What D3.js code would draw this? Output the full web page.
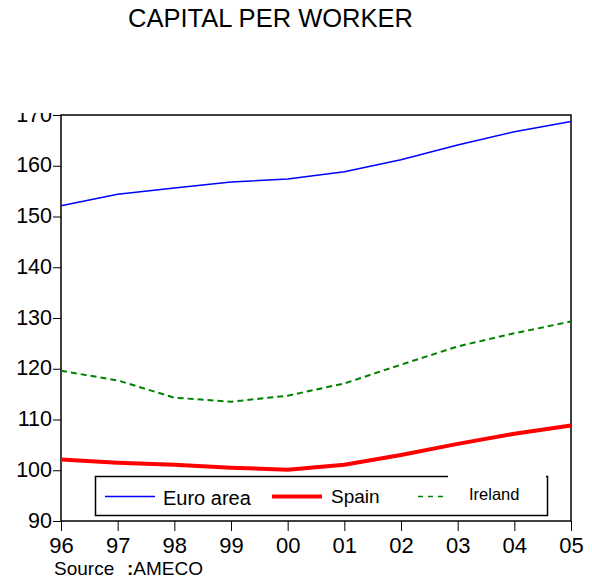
<!DOCTYPE html>
<html><head><meta charset="utf-8">
<script src="https://cdn.jsdelivr.net/npm/d3@7"></script>
<style>body{margin:0;background:#fff}svg{display:block;font-family:Arial,"Liberation Sans",sans-serif}</style>
</head><body><svg id="c" width="592" height="581"></svg>
<script>
const years = ["96","97","98","99","00","01","02","03","04","05"];
const euroArea = [152.1,154.4,155.6,156.8,157.4,158.8,161.2,164.1,166.7,168.7];
const spain = [102.1,101.5,101.1,100.5,100.1,101.1,103.0,105.2,107.2,108.8];
const ireland = [119.6,117.7,114.3,113.5,114.7,117.1,120.8,124.4,127.0,129.3];
const yTicks = [90,100,110,120,130,140,150,160,170];
const title = "CAPITAL PER WORKER";

const svg = d3.select("#c");
const L=61, R=571, T=115, B=521;
const x = d3.scalePoint().domain(years).range([L,R]);
const y = d3.scaleLinear().domain([90,170]).range([B,T]);

svg.append("text").attr("x",270.5).attr("y",27).attr("text-anchor","middle")
  .attr("font-size",25.5).text(title);

svg.append("defs").append("clipPath").attr("id","yc").append("rect")
  .attr("x",-70).attr("y",113).attr("width",80).attr("height",440);

const yAx = svg.append("g").attr("transform",`translate(${L},0)`).attr("clip-path","url(#yc)")
  .call(d3.axisLeft(y).tickValues(yTicks).tickSize(8).tickPadding(1).tickFormat(d3.format("d")));
yAx.select(".domain").remove();
yAx.selectAll("text").attr("font-size",21.5).attr("fill","#000").attr("font-family","Arial,'Liberation Sans',sans-serif").attr("dy","6px");
yAx.selectAll("line").attr("stroke","#000");

const xAx = svg.append("g").attr("transform",`translate(0,${B})`)
  .call(d3.axisBottom(x).tickSize(10).tickPadding(6));
xAx.select(".domain").remove();
xAx.selectAll("text").attr("font-size",22).attr("fill","#000").attr("font-family","Arial,'Liberation Sans',sans-serif").attr("dy","16px");
xAx.selectAll("line").attr("stroke","#000");

svg.append("rect").attr("x",L).attr("y",T).attr("width",R-L).attr("height",B-T)
  .attr("fill","none").attr("stroke","#000").attr("stroke-width",1.5);

const line = d3.line().x((d,i)=>x(years[i])).y(d=>y(d));
svg.append("path").datum(euroArea).attr("d",line).attr("fill","none").attr("stroke","#0000ff").attr("stroke-width",1.5);
svg.append("path").datum(ireland).attr("d",line).attr("fill","none").attr("stroke","#008000").attr("stroke-width",2).attr("stroke-dasharray","6,4");
svg.append("path").datum(spain).attr("d",line).attr("fill","none").attr("stroke","#ff0000").attr("stroke-width",4);

// legend
const lg = svg.append("g");
lg.append("rect").attr("x",95.5).attr("y",476.5).attr("width",452).attr("height",39)
  .attr("fill","#fff").attr("stroke","#000").attr("stroke-width",1.5);
lg.append("rect").attr("x",448).attr("y",474).attr("width",98).attr("height",5).attr("fill","#fff");
lg.append("line").attr("x1",105).attr("x2",155).attr("y1",496.5).attr("y2",496.5).attr("stroke","#0000ff").attr("stroke-width",1.5);
lg.append("text").attr("x",163).attr("y",505).attr("font-size",20).text("Euro area");
lg.append("line").attr("x1",272).attr("x2",322).attr("y1",496.5).attr("y2",496.5).attr("stroke","#ff0000").attr("stroke-width",4);
lg.append("text").attr("x",331).attr("y",503).attr("font-size",19).text("Spain");
lg.append("line").attr("x1",418).attr("x2",446).attr("y1",496.5).attr("y2",496.5).attr("stroke","#008000").attr("stroke-width",1.5).attr("stroke-dasharray","5,5");
lg.append("text").attr("x",469).attr("y",500).attr("font-size",16.5).text("Ireland");

const src = svg.append("text").attr("x",54).attr("y",575).attr("font-size",19);
src.append("tspan").text("Source ");
src.append("tspan").attr("x",127).attr("font-weight","bold").text(":");
src.append("tspan").text("AMECO");
</script></body></html>
